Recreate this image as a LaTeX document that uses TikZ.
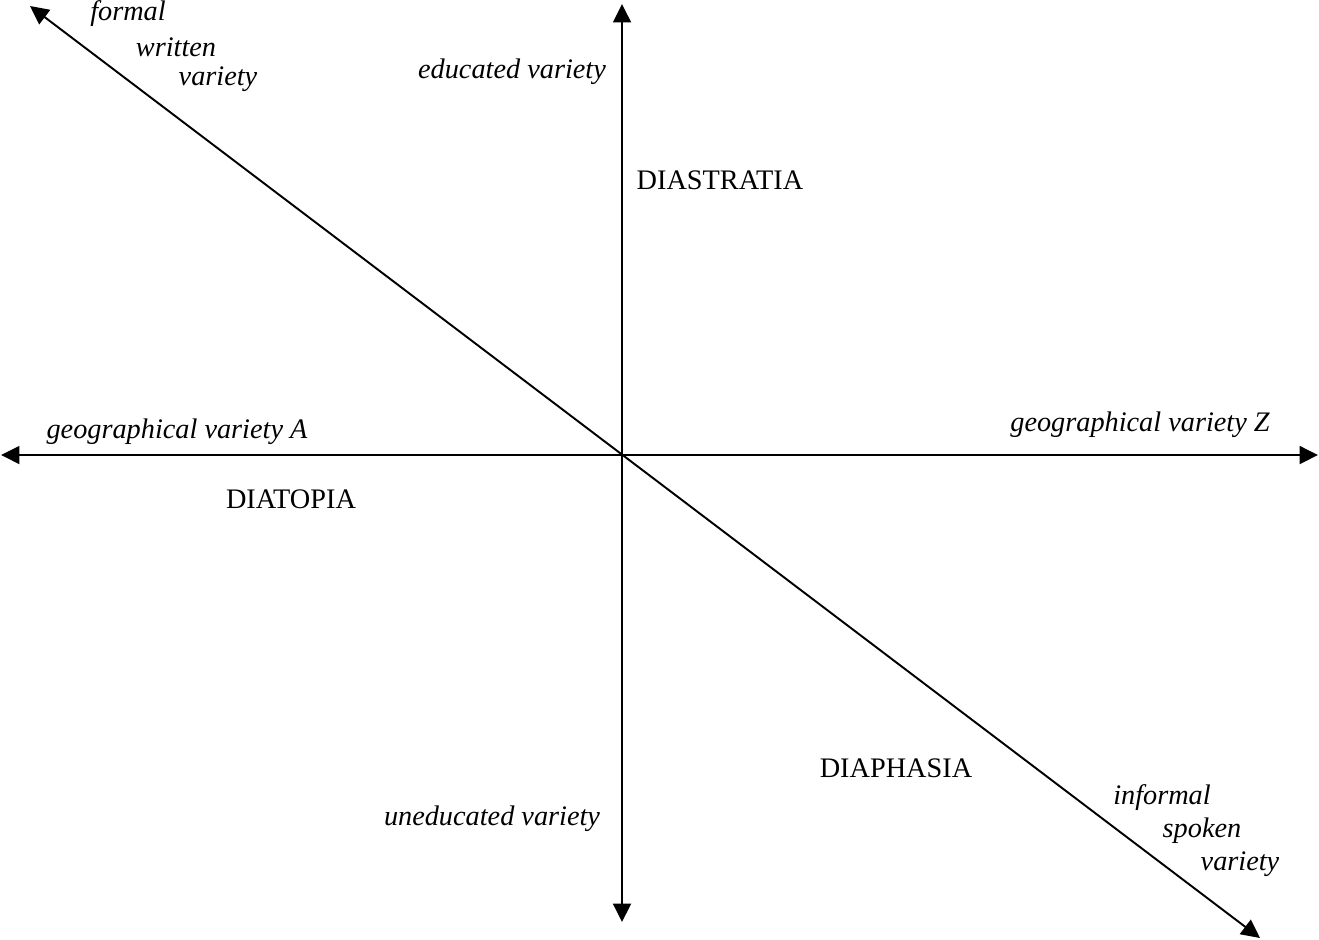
\documentclass[tikz,border=0pt]{standalone}
\usepackage{fontspec}
\setmainfont{Liberation Serif}
\usepackage{tikz}
\usetikzlibrary{arrows.meta, positioning}

\begin{document}
\begin{tikzpicture}[x=0.02cm, y=-0.02cm,
    every node/.style={font=\fontsize{16.1}{20}\selectfont, inner sep=0pt},
    axis/.style={line width=1.1pt, {Triangle[length=0.37cm, width=0.36cm]}-{Triangle[length=0.37cm, width=0.36cm]}},
    pole/.style={font=\fontsize{16.1}{20}\selectfont\itshape},
    dim/.style={font=\fontsize{16.1}{20}\selectfont}]
  \useasboundingbox (0,0) rectangle (1319,940);
  % ---------- AXES ----------
  \coordinate (O) at (622,455);
  \coordinate (W) at (1,455);
  \coordinate (E) at (1318,455);
  \coordinate (N) at (622,4);
  \coordinate (S) at (622,922);
  \coordinate (NW) at (30,6);
  \coordinate (SE) at (1260,938);
  \draw[axis] (W) -- (E);
  \draw[axis] (N) -- (S);
  \draw[axis] (NW) -- (SE);
  % ---------- POLES ----------
  \node[pole] (formal) at (128,14) {formal};
  \node[pole] (written) at (176,47) {written};
  \node[pole] (fvariety) at (218,79) {variety};
  \node[pole] (educ) at (512,72) {educated variety};
  \node[pole] (uneduc) at (492,819) {uneducated variety};
  \node[pole] (geoA) at (177,432) {geographical variety A};
  \node[pole] (geoZ) at (1140,425) {geographical variety Z};
  \node[pole] (informal) at (1162,798) {informal};
  \node[pole] (spoken) at (1202,831) {spoken};
  \node[pole] (ivariety) at (1240,864) {variety};
  % ---------- DIMENSIONS ----------
  \node[dim] (diastratia) at (720,180) {DIASTRATIA};
  \node[dim] (diatopia) at (291,499) {DIATOPIA};
  \node[dim] (diaphasia) at (896,768) {DIAPHASIA};
\end{tikzpicture}
\end{document}
